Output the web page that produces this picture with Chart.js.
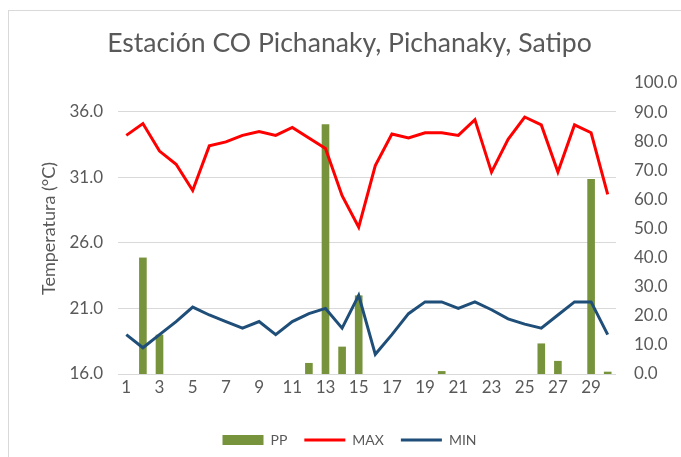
<!DOCTYPE html>
<html>
<head>
<meta charset="utf-8">
<script src="https://cdn.jsdelivr.net/npm/chart.js@4.4.1/dist/chart.umd.min.js"></script>
<style>
  html, body { margin: 0; padding: 0; background: #fff; }
  #wrap { position: relative; width: 681px; height: 457px; }
  #frame {
    position: absolute; left: 8px; top: 10px; right: -2px; bottom: -2px;
    border-left: 1px solid #d9d9d9; border-top: 1px solid #d9d9d9;
    pointer-events: none;
  }
  canvas { position: absolute; left: 0; top: 0; }
</style>
</head>
<body>
<div id="wrap">
  <canvas id="chart" width="681" height="457"></canvas>
  <div id="frame"></div>
</div>
<script>
const days = Array.from({ length: 30 }, (_, i) => String(i + 1));

// precipitación diaria (mm), eje derecho
const ppValues = [0, 40.0, 13.5, 0, 0, 0, 0, 0, 0, 0, 0, 3.8, 85.8, 9.4, 27.0,
  0, 0, 0, 0, 1.0, 0, 0, 0, 0, 0, 10.5, 4.5, 0, 67.0, 0.8];

// temperatura máxima (°C)
const maxValues = [34.2, 35.1, 33.0, 32.0, 30.0, 33.4, 33.7, 34.2, 34.5, 34.2,
  34.8, 34.0, 33.2, 29.6, 27.2, 31.9, 34.3, 34.0, 34.4, 34.4,
  34.2, 35.4, 31.4, 33.9, 35.6, 35.0, 31.4, 35.0, 34.4, 29.7];

// temperatura mínima (°C)
const minValues = [19.0, 18.0, 19.0, 20.0, 21.1, 20.5, 20.0, 19.5, 20.0, 19.0,
  20.0, 20.6, 21.0, 19.5, 22.0, 17.5, 19.0, 20.6, 21.5, 21.5,
  21.0, 21.5, 20.9, 20.2, 19.8, 19.5, 20.5, 21.5, 21.5, 19.0];

const tempTicks = [16, 21, 26, 31, 36];

const gray = '#595959';
const font = 'Lato, "Open Sans", sans-serif';

new Chart(document.getElementById('chart').getContext('2d'), {
  type: 'bar',
  data: {
    labels: days,
    datasets: [
      {
        label: 'PP',
        data: ppValues,
        yAxisID: 'y1',
        backgroundColor: '#77933c',
        barPercentage: 0.46,
        categoryPercentage: 1,
        pointStyle: 'rect',
        order: 3,
      },
      {
        type: 'line',
        label: 'MAX',
        data: maxValues,
        yAxisID: 'y',
        borderColor: '#ff0000',
        backgroundColor: '#ff0000',
        borderWidth: 3,
        pointRadius: 0,
        pointStyle: 'line',
        tension: 0,
        order: 2,
      },
      {
        type: 'line',
        label: 'MIN',
        data: minValues,
        yAxisID: 'y',
        borderColor: '#1f4e79',
        backgroundColor: '#1f4e79',
        borderWidth: 3,
        pointRadius: 0,
        pointStyle: 'line',
        tension: 0,
        order: 1,
      },
    ],
  },
  options: {
    responsive: false,
    animation: false,
    layout: { padding: { left: 18, right: 0, top: 0, bottom: 0 } },
    plugins: {
      title: {
        display: true,
        text: 'Estación CO Pichanaky, Pichanaky, Satipo',
        color: gray,
        font: { family: font, size: 26.6, weight: 'normal' },
        padding: { top: 27, bottom: 24 },
      },
      legend: {
        position: 'bottom',
        labels: {
          color: gray,
          font: { family: font, size: 14 },
          usePointStyle: true,
          pointStyleWidth: 41,
          boxHeight: 10,
          padding: 17,
          sort: (a, b) => a.datasetIndex - b.datasetIndex,
        },
      },
      tooltip: { enabled: false },
    },
    scales: {
      x: {
        grid: { display: false, drawTicks: false },
        border: { display: false },
        ticks: {
          color: gray,
          font: { family: font, size: 17 },
          autoSkip: false,
          maxRotation: 0,
          padding: 3,
          callback: (v, i) => (i % 2 === 0 ? days[i] : ''),
        },
        afterFit: s => { s.height = 42; },
      },
      y: {
        position: 'left',
        min: 16,
        max: 38.2,
        afterBuildTicks: s => { s.ticks = tempTicks.map(v => ({ value: v })); },
        grid: { color: '#d9d9d9', drawTicks: false },
        border: { display: false },
        ticks: {
          color: gray,
          font: { family: font, size: 17 },
          padding: 15,
          callback: v => v.toFixed(1),
        },
        title: {
          display: true,
          text: 'Temperatura (°C)',
          color: gray,
          font: { family: font, size: 18 },
          padding: { top: 20, bottom: 0 },
        },
        afterFit: s => { s.width = 100; },
      },
      y1: {
        position: 'right',
        min: 0,
        max: 100,
        grid: { display: false, drawTicks: false },
        border: { display: false },
        ticks: {
          color: gray,
          font: { family: font, size: 17 },
          stepSize: 10,
          padding: 18,
          callback: v => v.toFixed(1),
        },
        afterFit: s => { s.width = 65; },
      },
    },
  },
});
</script>
</body>
</html>
